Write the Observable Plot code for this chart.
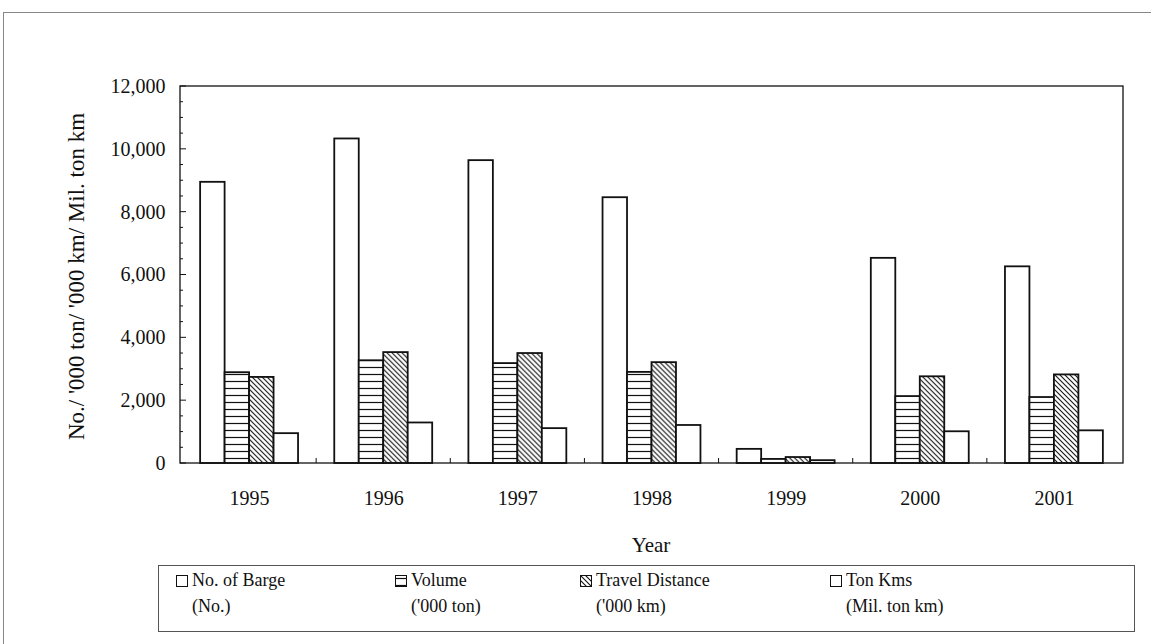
<!DOCTYPE html>
<html>
<head>
<meta charset="utf-8">
<script src="https://cdn.jsdelivr.net/npm/d3@7"></script>
<script src="https://cdn.jsdelivr.net/npm/@observablehq/plot@0.6"></script>
<style>
  html, body { margin: 0; padding: 0; background: #fff; }
  body { width: 1151px; height: 644px; position: relative; overflow: hidden; font-family: 'Liberation Serif', 'DejaVu Serif', serif; color: #111; }
  #frame { position: absolute; left: 3px; top: 12px; width: 1150px; height: 640px; border-top: 1px solid #888; border-left: 1px solid #888; }
  #chart { position: absolute; left: 0; top: 0; }
  #chart svg text { font-family: 'Liberation Serif', serif; }
  #xlabel { position: absolute; top: 533px; left: 551px; width: 200px; text-align: center; font-size: 21px; }
  #legend { position: absolute; left: 158px; top: 565px; width: 975px; height: 65px; border: 1px solid #555; font-size: 18px; }
  .item { position: absolute; white-space: nowrap; line-height: 20px; }
  .item svg { vertical-align: -1px; margin-right: 4px; }
</style>
</head>
<body>
<svg width="0" height="0" style="position:absolute">
  <defs>
    <pattern id="hlines" patternUnits="userSpaceOnUse" width="8" height="7">
      <rect width="8" height="7" fill="#fff"></rect>
      <line x1="0" y1="3.5" x2="8" y2="3.5" stroke="#111" stroke-width="1.2"></line>
    </pattern>
    <pattern id="diag" patternUnits="userSpaceOnUse" width="5" height="5">
      <rect width="5" height="5" fill="#fff"></rect>
      <path d="M-1,-1 L6,6 M-1,4 L1,6 M4,-1 L6,1" stroke="#111" stroke-width="1.1"></path>
    </pattern>
  </defs>
</svg>
<div id="frame"></div>
<div id="chart"></div>
<div id="xlabel">Year</div>
<div id="legend"></div>
<script>
// ---- data ----
const years = ["1995", "1996", "1997", "1998", "1999", "2000", "2001"];
const seriesNames = ["No. of Barge", "Volume", "Travel Distance", "Ton Kms"];
const seriesUnits = ["(No.)", "('000 ton)", "('000 km)", "(Mil. ton km)"];
const barge  = [8950, 10330, 9640, 8460, 450, 6530, 6260];
const volume = [2890, 3270, 3180, 2900, 130, 2130, 2100];
const travel = [2740, 3530, 3500, 3210, 190, 2760, 2820];
const tonKms = [950, 1290, 1110, 1210, 90, 1010, 1040];
const yTicks = [0, 2000, 4000, 6000, 8000, 10000, 12000];
const yLabel = "No./ '000 ton/ '000 km/ Mil. ton km";

const seriesValues = [barge, volume, travel, tonKms];
const fills = {"No. of Barge": "#fff", "Volume": "url(#hlines)", "Travel Distance": "url(#diag)", "Ton Kms": "#fff"};

const rows = [];
years.forEach((y, i) => seriesNames.forEach((s, k) => rows.push({year: y, series: s, value: seriesValues[k][i]})));

const W = 1151, H = 560, mL = 180, mR = 28, mT = 86, mB = 97;
const pIn = 0.27, pOut = 0.15;
const step = (W - mL - mR) / (years.length - pIn + 2 * pOut);
const facetOffset = pOut * step; // distance from frame edge to first facet

const plot = Plot.plot({
  width: W, height: H,
  marginLeft: mL, marginRight: mR, marginTop: mT, marginBottom: mB,
  style: {fontFamily: "'Liberation Serif', serif", fontSize: "20px", color: "#111", background: "transparent"},
  facet: {data: rows, x: "year"},
  fx: {domain: years, paddingInner: pIn, paddingOuter: pOut, round: false, axis: "bottom", label: null, tickSize: 0, tickPadding: 27},
  x: {domain: seriesNames, padding: 0, round: false, axis: null},
  y: {domain: [0, 12000], ticks: yTicks, tickFormat: d3.format(","), tickSize: 0, tickPadding: 15 + facetOffset, label: null},
  marks: [
    Plot.barY(rows, {x: "series", y: "value", fill: d => fills[d.series], stroke: "#111", strokeWidth: 1.8})
  ]
});
document.getElementById("chart").appendChild(plot);

// frame, inward ticks and y label drawn with the plot's own scales
const svg = d3.select(plot);
const ys = plot.scale("y");
const fxs = plot.scale("fx");
const x0 = mL, x1 = W - mR;
const g = svg.append("g").attr("stroke", "#111").attr("fill", "none");
g.append("rect").attr("x", x0).attr("y", ys.apply(12000)).attr("width", x1 - x0).attr("height", ys.apply(0) - ys.apply(12000)).attr("stroke-width", 1.3);
d3.range(0, 12001, 500).forEach(v => {
  const major = v % 2000 === 0;
  g.append("line").attr("x1", x0).attr("x2", x0 + (major ? 6 : 3)).attr("y1", ys.apply(v)).attr("y2", ys.apply(v)).attr("stroke-width", 1);
});
years.slice(0, -1).forEach(y => {
  const xb = fxs.apply(y) + fxs.bandwidth + (fxs.step - fxs.bandwidth) / 2;
  g.append("line").attr("x1", xb).attr("x2", xb).attr("y1", ys.apply(0)).attr("y2", ys.apply(0) - 5).attr("stroke-width", 1);
});
svg.append("text")
  .attr("transform", `translate(79,${(ys.apply(0) + ys.apply(12000)) / 2 + 2}) rotate(-90)`)
  .attr("text-anchor", "middle").attr("dominant-baseline", "middle")
  .style("font-family", "'Liberation Serif', serif")
  .style("font-size", "23px").attr("fill", "#111").text(yLabel);

// legend
const legend = document.getElementById("legend");
const itemLeft = [17, 236, 421, 671];
seriesNames.forEach((s, k) => {
  const a = document.createElement("div");
  a.className = "item";
  a.style.left = itemLeft[k] + "px"; a.style.top = "4px";
  a.innerHTML = `<svg width="12" height="12"><rect x="0.5" y="0.5" width="11" height="11" fill="${fills[s]}" stroke="#111"></rect></svg>`;
  a.appendChild(document.createTextNode(s));
  legend.appendChild(a);
  const b = document.createElement("div");
  b.className = "item";
  b.style.left = (itemLeft[k] + 16) + "px"; b.style.top = "30px";
  b.textContent = seriesUnits[k];
  legend.appendChild(b);
});
</script>
</body>
</html>
